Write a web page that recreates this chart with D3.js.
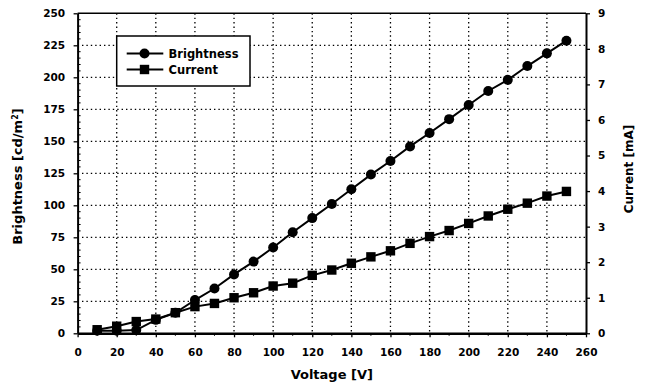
<!DOCTYPE html>
<html><head><meta charset="utf-8">
<script src="https://cdn.jsdelivr.net/npm/d3@7"></script>
<style>
body{margin:0;background:#fff;}
svg{display:block;}
text{font-family:"DejaVu Sans",sans-serif;font-weight:bold;fill:#000;}
</style>
</head><body>
<svg id="chart" width="648" height="390"></svg>
<script>
// ---- data ----
const voltage = [10,20,30,40,50,60,70,80,90,100,110,120,130,140,150,160,170,180,190,200,210,220,230,240,250];
const brightness = [2,2,2.5,10.5,16,26,35,46,56,67,79,90,101,112.5,124,134.6,146,156.5,167.3,178.4,189.3,198,208.8,218.7,228.6];
const current = [0.1,0.2,0.33,0.4,0.58,0.75,0.84,1.0,1.14,1.33,1.41,1.63,1.78,1.97,2.15,2.32,2.53,2.72,2.89,3.09,3.3,3.49,3.66,3.86,3.99];
const xTicks = [0,20,40,60,80,100,120,140,160,180,200,220,240,260];
const yLeftTicks = [0,25,50,75,100,125,150,175,200,225,250];
const yRightTicks = [0,1,2,3,4,5,6,7,8,9];
const seriesNames = ["Brightness","Current"];

// ---- layout ----
const svg = d3.select("#chart");
const L = 77.6, R = 586, T = 13.3, B = 333.3;
const x = d3.scaleLinear().domain([0,260]).range([L,R]);
const yL = d3.scaleLinear().domain([0,250]).range([B,T]);
const yR = d3.scaleLinear().domain([0,9]).range([B,T]);

// gridlines (dotted)
const grid = svg.append("g").attr("stroke","#000").attr("stroke-width",1.3).attr("stroke-dasharray","1.4,3");
grid.selectAll("line.v").data(xTicks.filter(d=>d>0 && d<260)).join("line")
  .attr("x1",d=>x(d)).attr("x2",d=>x(d)).attr("y1",T).attr("y2",B);
grid.selectAll("line.h").data(yLeftTicks.filter(d=>d>0 && d<250)).join("line")
  .attr("x1",L).attr("x2",R).attr("y1",d=>yL(d)).attr("y2",d=>yL(d));

// top frame
svg.append("line").attr("x1",L).attr("x2",R).attr("y1",T).attr("y2",T)
  .attr("stroke","#000").attr("stroke-width",1.5);

// minor ticks
const minor = svg.append("g").attr("stroke","#000").attr("stroke-width",1);
minor.selectAll("line.ml").data(d3.range(5,250,5).filter(d=>d%25!==0)).join("line")
  .attr("x1",L).attr("x2",L+3).attr("y1",d=>yL(d)).attr("y2",d=>yL(d));
minor.selectAll("line.mb").data(d3.range(10,260,20)).join("line")
  .attr("x1",d=>x(d)).attr("x2",d=>x(d)).attr("y1",B).attr("y2",B+2.5);

// axes
const fs = "10.5px";
const ax = svg.append("g").attr("transform",`translate(0,${B})`)
  .call(d3.axisBottom(x).tickValues(xTicks).tickSize(4).tickPadding(11).tickSizeOuter(0));
const ayl = svg.append("g").attr("transform",`translate(${L},0)`)
  .call(d3.axisLeft(yL).tickValues(yLeftTicks).tickSize(4).tickPadding(8.5).tickSizeOuter(0));
const ayr = svg.append("g").attr("transform",`translate(${R},0)`)
  .call(d3.axisRight(yR).tickValues(yRightTicks).tickSize(4).tickPadding(8).tickSizeOuter(0));
[ax,ayl,ayr].forEach(g=>{
  g.select(".domain").attr("stroke","#000").attr("stroke-width",2);
  g.selectAll(".tick line").attr("stroke","#000").attr("stroke-width",1.3);
  g.selectAll("text").style("font-size",fs).style("font-family","'DejaVu Sans',sans-serif")
    .style("font-weight","bold").attr("fill","#000");
});
ax.select(".domain").attr("stroke-width",2.4);

// lines
const lineB = d3.line().x((d,i)=>x(voltage[i])).y(d=>yL(d));
const lineC = d3.line().x((d,i)=>x(voltage[i])).y(d=>yR(d));
svg.append("path").datum(brightness).attr("d",lineB).attr("fill","none").attr("stroke","#000").attr("stroke-width",2);
svg.append("path").datum(current).attr("d",lineC).attr("fill","none").attr("stroke","#000").attr("stroke-width",2);

// markers
const cr = 5;
svg.append("g").selectAll("circle").data(brightness).join("circle")
  .attr("cx",(d,i)=>x(voltage[i])).attr("cy",d=>yL(d)).attr("r",cr).attr("fill","#000");
const sq = 9.4;
svg.append("g").selectAll("rect").data(current).join("rect")
  .attr("x",(d,i)=>x(voltage[i])-sq/2).attr("y",d=>yR(d)-sq/2).attr("width",sq).attr("height",sq).attr("fill","#000");

// legend
const lg = svg.append("g");
lg.append("rect").attr("x",116.7).attr("y",36).attr("width",133.3).attr("height",50)
  .attr("fill","#fff").attr("stroke","#000").attr("stroke-width",1.5);
const rows = [53.5,69.5];
seriesNames.forEach((name,i)=>{
  const yy = rows[i];
  lg.append("line").attr("x1",126.7).attr("x2",163.3).attr("y1",yy).attr("y2",yy).attr("stroke","#000").attr("stroke-width",2);
  if(i===0) lg.append("circle").attr("cx",144.5).attr("cy",yy).attr("r",cr).attr("fill","#000");
  else lg.append("rect").attr("x",144.5-sq/2).attr("y",yy-sq/2).attr("width",sq).attr("height",sq).attr("fill","#000");
  lg.append("text").attr("x",168.5).attr("y",yy).attr("dy","0.36em").style("font-size","11.5px").text(name);
});

// axis titles
svg.append("text").attr("x",(L+R)/2).attr("y",379).attr("text-anchor","middle").style("font-size","13px").text("Voltage [V]");
const lt = svg.append("text").attr("transform","translate(21.7,176.5) rotate(-90)").attr("text-anchor","middle").style("font-size","13px");
lt.append("tspan").text("Brightness [cd/m");
lt.append("tspan").attr("baseline-shift","super").style("font-size","8px").text("2");
lt.append("tspan").text("]");
svg.append("text").attr("transform","translate(632.5,169) rotate(-90)").attr("text-anchor","middle").style("font-size","12px").text("Current [mA]");
</script>
</body></html>
